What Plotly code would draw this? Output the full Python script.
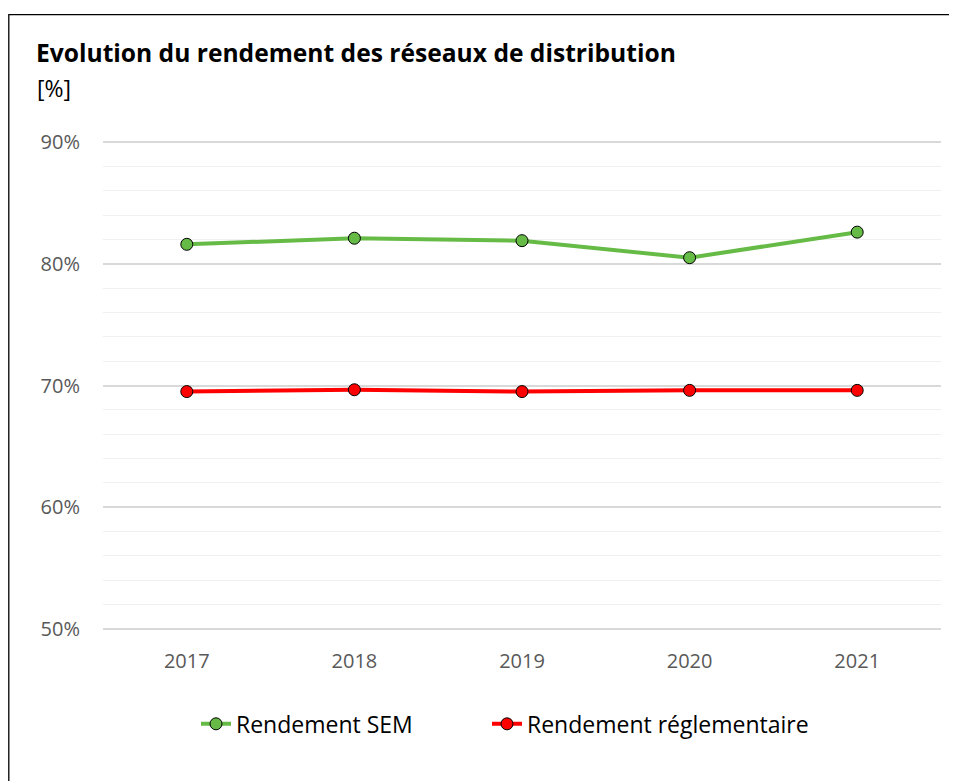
import plotly.graph_objects as go

years = ["2017", "2018", "2019", "2020", "2021"]
sem = [81.6, 82.1, 81.9, 80.5, 82.6]
reg = [69.5, 69.65, 69.5, 69.6, 69.6]
ytick_vals = [50, 60, 70, 80, 90]
ytick_text = ["50%", "60%", "70%", "80%", "90%"]

OFF = 8  # default page body margin
W, H = 957 - OFF, 781 - OFF
PPU = (629 - 142) / 40.0  # pixels per percent in reference
PAD = 0.5  # percent padding so 50/90 gridlines are drawn
# plot area in reference pixel coordinates
X0, X1 = 103, 941
Y0, Y1 = 142 - PAD * PPU, 629 + PAD * PPU
L, R, T, B = X0 - OFF, 957 - X1, Y0 - OFF, 781 - Y1
pw, ph = X1 - X0, Y1 - Y0

def px(x):
    return (x - X0) / pw

def py(y):
    return (Y1 - y) / ph

FONT = "Open Sans"

fig = go.Figure()
fig.add_trace(go.Scatter(
    x=years, y=sem, name="Rendement SEM", mode="lines+markers",
    line=dict(color="#66bb46", width=4), legendwidth=246,
    marker=dict(size=12, color="#66bb46", line=dict(color="black", width=1)),
))
fig.add_trace(go.Scatter(
    x=years, y=reg, name="Rendement réglementaire", mode="lines+markers",
    line=dict(color="#ff0000", width=4), legendwidth=300,
    marker=dict(size=12, color="#ff0000", line=dict(color="black", width=1)),
))

fig.update_layout(
    width=W, height=H,
    margin=dict(l=L, r=R, t=T, b=B, autoexpand=False),
    paper_bgcolor="white", plot_bgcolor="white",
    font=dict(family=FONT, color="#595959", size=20),
    showlegend=True,
    legend=dict(orientation="h", x=px(196), xanchor="left", y=py(724), yanchor="middle",
                font=dict(size=23, color="black", family=FONT),
                traceorder="normal", tracegroupgap=0),
    xaxis=dict(type="category", range=[-0.5, 4.5], showgrid=False, showline=False,
               ticks="", tickfont=dict(size=20, color="#595959"), ticklabelstandoff=12),
    yaxis=dict(range=[50 - PAD, 90 + PAD], tickvals=ytick_vals, ticktext=ytick_text,
               showgrid=True, gridcolor="#d9d9d9", gridwidth=1.5, zeroline=False,
               minor=dict(dtick=2, showgrid=True, gridcolor="#f0f0f0", gridwidth=1),
               tickfont=dict(size=20, color="#595959"), ticklabelstandoff=22),
    title=dict(text="<b>Evolution du rendement des réseaux de distribution</b>",
               x=(36 - OFF) / W, xanchor="left", xref="container",
               y=1 - (53 - OFF) / H, yanchor="middle", yref="container",
               font=dict(size=24.6, color="black", family=FONT)),
    annotations=[dict(text="[%]", xref="paper", yref="paper", x=px(35), y=py(88),
                      xanchor="left", yanchor="middle", showarrow=False,
                      font=dict(size=23, color="black", family=FONT))],
    shapes=[dict(type="rect", xref="paper", yref="paper", x0=px(8.8), x1=px(965),
                 y0=py(800), y1=py(14.5), line=dict(color="black", width=1.3))],
)

fig.write_html("out.html")
